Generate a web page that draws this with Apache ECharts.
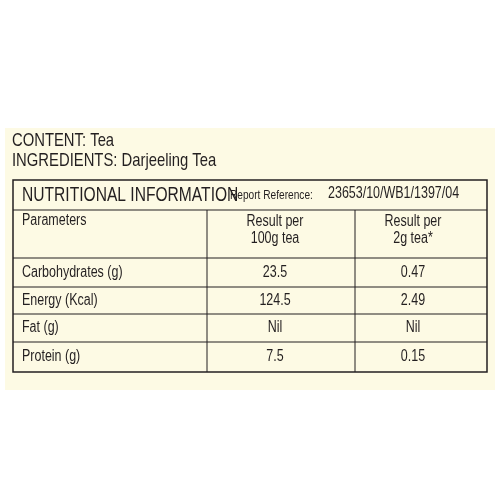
<!DOCTYPE html>
<html>
<head>
<meta charset="utf-8">
<script src="https://cdn.jsdelivr.net/npm/echarts@6/dist/echarts.min.js"></script>
<style>html,body{margin:0;padding:0;background:#fff}#main{width:500px;height:500px}</style>
</head>
<body>
<div id="main"></div>
<script>
// label data
var contentLines = ['CONTENT: Tea', 'INGREDIENTS: Darjeeling Tea'];
var titleText = 'NUTRITIONAL INFORMATION';
var reportLabel = 'Report Reference:';
var reportValue = '23653/10/WB1/1397/04';
var headers = ['Parameters', 'Result per\n100g tea', 'Result per\n2g tea*'];
var parameters = ['Carbohydrates (g)', 'Energy (Kcal)', 'Fat (g)', 'Protein (g)'];
var per100g = ['23.5', '124.5', 'Nil', '7.5'];
var per2g = ['0.47', '2.49', 'Nil', '0.15'];

var font = '"Liberation Sans", Arial, sans-serif';
var ink = '#231f20';
var sx = 0.78; // narrow the type, the label uses a condensed face
var colX = [13, 207, 355, 487];
var rowY = [180, 210, 258, 287, 314, 342, 372];

function txt(x, y, t, size, extra) {
  var st = {text: t, font: size + 'px ' + font, fill: ink};
  for (var k in extra) st[k] = extra[k];
  return {type: 'text', x: x, y: y, scaleX: sx, style: st};
}

var els = [];
// cream panel
els.push({type: 'rect', shape: {x: 5, y: 128, width: 490, height: 262}, style: {fill: '#fdfae4'}});
contentLines.forEach(function (t, i) {
  els.push(txt(12, 131 + i * 20, t, 19, {}));
});
// table border
els.push({type: 'rect', shape: {x: colX[0], y: rowY[0], width: colX[3] - colX[0], height: rowY[6] - rowY[0]},
  style: {fill: 'none', stroke: ink, lineWidth: 1.5}});
for (var r = 1; r < rowY.length - 1; r++) {
  els.push({type: 'line', shape: {x1: colX[0], y1: rowY[r], x2: colX[3], y2: rowY[r]}, style: {stroke: ink, lineWidth: 1}});
}
[1, 2].forEach(function (c) {
  els.push({type: 'line', shape: {x1: colX[c], y1: rowY[1], x2: colX[c], y2: rowY[6]}, style: {stroke: ink, lineWidth: 1}});
});
// title row
els.push(txt(22, 185, titleText, 20, {}));
els.push(txt(230, 189, reportLabel, 13, {}));
els.push(txt(328, 186, reportValue, 16, {}));
// header row
els.push(txt(22, 213, headers[0], 16, {}));
[1, 2].forEach(function (c) {
  els.push(txt(c === 1 ? 275 : 413, 213, headers[c], 16, {align: 'center', lineHeight: 17}));
});
// data rows
parameters.forEach(function (p, i) {
  var y = (rowY[i + 2] + rowY[i + 3]) / 2;
  els.push(txt(22, y, p, 16, {verticalAlign: 'middle'}));
  els.push(txt(275, y, per100g[i], 16, {align: 'center', verticalAlign: 'middle'}));
  els.push(txt(413, y, per2g[i], 16, {align: 'center', verticalAlign: 'middle'}));
});

var chart = echarts.init(document.getElementById('main'));
chart.setOption({backgroundColor: '#fff', graphic: {elements: els}});
</script>
</body>
</html>
